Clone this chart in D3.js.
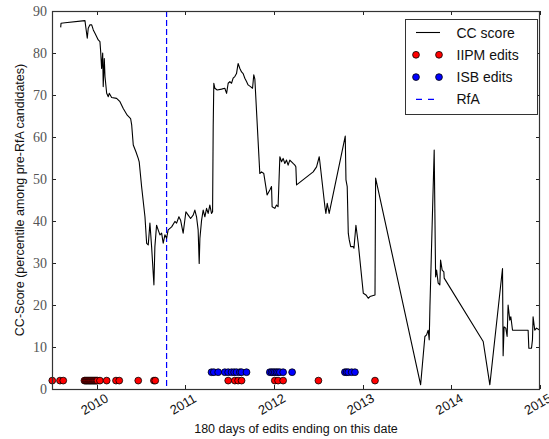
<!DOCTYPE html>
<html>
<head>
<meta charset="utf-8">
<script src="https://cdnjs.cloudflare.com/ajax/libs/d3/7.8.5/d3.min.js"></script>
<style>
  body { margin: 0; background: #fff; }
  .axis-label { font-family: "Liberation Sans", Arial, sans-serif; font-size: 12.5px; fill: #111; }
  .y-tick { font-family: "Liberation Serif", "DejaVu Serif", serif; font-size: 14px; fill: #555; }
  .x-tick { font-family: "Liberation Sans", Arial, sans-serif; font-size: 13px; fill: #111; }
  .legend-text { font-family: "Liberation Sans", Arial, sans-serif; font-size: 14px; fill: #111; }
</style>
</head>
<body>
<svg id="chart" width="549" height="439"></svg>
<script>
// CC score series : decimal year / percentile
var ccYears = [
  2009.594, 2009.598, 2009.643, 2009.868, 2009.879, 2009.894, 2009.905, 2009.924, 2009.944, 2009.962,
  2009.981, 2010.018, 2010.037, 2010.045, 2010.056, 2010.068, 2010.074, 2010.086, 2010.094, 2010.113,
  2010.131, 2010.142, 2010.169, 2010.225, 2010.263, 2010.300, 2010.345, 2010.383, 2010.395, 2010.413,
  2010.443, 2010.469, 2010.480, 2010.507, 2010.545, 2010.564, 2010.582, 2010.601, 2010.620, 2010.646,
  2010.657, 2010.676, 2010.694, 2010.714, 2010.733, 2010.751, 2010.770, 2010.789, 2010.807, 2010.846,
  2010.883, 2010.902, 2010.928, 2010.947, 2010.976, 2011.007, 2011.033, 2011.060, 2011.089, 2011.108,
  2011.127, 2011.145, 2011.157, 2011.165, 2011.184, 2011.202, 2011.221, 2011.240, 2011.258, 2011.277,
  2011.296, 2011.308, 2011.315, 2011.322, 2011.334, 2011.360, 2011.409, 2011.446, 2011.466, 2011.484,
  2011.503, 2011.522, 2011.540, 2011.559, 2011.578, 2011.596, 2011.616, 2011.635, 2011.653, 2011.672,
  2011.691, 2011.709, 2011.736, 2011.759, 2011.773, 2011.785, 2011.841, 2011.860, 2011.886, 2011.909,
  2011.923, 2011.954, 2011.973, 2011.980, 2012.010, 2012.029, 2012.047, 2012.059, 2012.067, 2012.086,
  2012.104, 2012.123, 2012.142, 2012.160, 2012.179, 2012.216, 2012.236, 2012.247, 2012.255, 2012.442,
  2012.480, 2012.510, 2012.517, 2012.574, 2012.585, 2012.600, 2012.622, 2012.803, 2012.811, 2012.825,
  2012.837, 2012.848, 2012.864, 2012.893, 2012.901, 2012.923, 2012.949, 2013.006, 2013.036, 2013.062,
  2013.081, 2013.138, 2013.145, 2013.653, 2013.701, 2013.720, 2013.738, 2013.750, 2013.758, 2013.806,
  2013.822, 2013.833, 2013.851, 2013.870, 2013.878, 2013.896, 2013.915, 2013.919, 2014.359, 2014.434,
  2014.577, 2014.584, 2014.595, 2014.614, 2014.629, 2014.640, 2014.659, 2014.671, 2014.690, 2014.866,
  2014.874, 2014.904, 2014.915, 2014.922, 2014.941, 2014.961, 2014.998
];
var ccScores = [
  86.1, 87.1, 87.2, 87.7, 85.9, 83.5, 85.9, 86.7, 86.7, 85.5,
  84.7, 83.1, 82.7, 80.4, 76.3, 80.0, 72.0, 78.7, 74.4, 70.4,
  69.6, 70.4, 69.4, 69.2, 68.4, 66.8, 65.2, 64.4, 62.9, 58.1,
  56.5, 54.9, 54.1, 48.2, 41.0, 34.7, 34.3, 39.5, 33.9, 24.8,
  33.9, 39.0, 37.9, 36.7, 37.1, 34.7, 36.7, 35.9, 37.9, 38.6,
  39.9, 39.5, 41.0, 40.2, 37.1, 42.2, 41.4, 40.6, 41.4, 42.6,
  41.0, 37.9, 29.9, 35.9, 40.2, 42.6, 41.0, 43.0, 41.8, 43.8,
  41.8, 42.2, 62.5, 72.8, 71.6, 71.2, 71.4, 71.6, 70.4, 72.8,
  73.2, 72.8, 74.0, 74.4, 75.1, 77.5, 76.3, 75.5, 75.1, 74.0,
  73.2, 72.4, 72.0, 71.6, 74.8, 73.8, 51.3, 51.7, 51.3, 48.2,
  46.2, 47.4, 48.2, 43.4, 43.0, 43.8, 43.4, 50.5, 55.3, 54.1,
  54.9, 53.7, 54.5, 53.3, 54.5, 53.7, 53.3, 52.9, 48.6, 51.7,
  52.9, 55.3, 54.1, 43.4, 41.8, 44.2, 41.8, 60.2, 49.8, 48.2,
  37.1, 35.5, 33.9, 33.9, 33.5, 39.0, 34.7, 22.8, 22.4, 21.6,
  22.0, 22.4, 50.2, 1.0, 12.5, 12.9, 14.0, 11.7, 19.6, 56.9,
  26.7, 28.3, 25.2, 24.8, 30.7, 28.3, 27.9, 26.4, 11.3, 1.0,
  28.7, 7.9, 14.8, 14.5, 12.5, 20.0, 16.4, 17.2, 14.0, 14.0,
  9.7, 9.7, 11.7, 17.2, 14.0, 14.5, 14.0
];

// edit dates (decimal year)
var iipmEdits = [
  2009.499, 2009.586, 2009.623, 2009.862, 2009.874, 2009.885, 2009.896, 2009.908, 2009.919, 2009.930,
  2009.941, 2009.953, 2009.964, 2009.975, 2009.986, 2009.998, 2010.009, 2010.037, 2010.113, 2010.218,
  2010.255, 2010.469, 2010.646, 2010.661, 2011.484, 2011.559, 2011.596, 2011.635, 2012.010, 2012.047,
  2012.104, 2012.501, 2013.138
];
var isbEdits = [
  2011.296, 2011.322, 2011.371, 2011.446, 2011.484, 2011.522, 2011.551, 2011.578, 2011.616, 2011.635,
  2011.691, 2011.954, 2011.973, 2011.991, 2012.010, 2012.029, 2012.047, 2012.067, 2012.104, 2012.205,
  2012.799, 2012.818, 2012.837, 2012.875, 2012.912
];
var iipmLevel = 2;
var isbLevel = 4;
var rfaYear = 2010.789;

var xDomainYears = [2009.496, 2015.0];
var yTicks = [0, 10, 20, 30, 40, 50, 60, 70, 80, 90];
var legendLabels = ["CC score", "IIPM edits", "ISB edits", "RfA"];

/*
  NAME: toDate
  DESCRIPTION: turns a decimal year into a Date
*/
function toDate(fy) {
  var y = Math.floor(fy);
  var s = new Date(y, 0, 1);
  var e = new Date(y + 1, 0, 1);
  return new Date(+s + (fy - y) * (e - s));
}

/*
  NAME: drawChart
  DESCRIPTION: draws frame, axes, series, markers and legend
*/
function drawChart() {
  var svg = d3.select("#chart");
  var left = 52, right = 540, top = 11, bottom = 389;

  var x = d3.scaleTime()
    .domain(xDomainYears.map(toDate))
    .range([left, right]);
  var y = d3.scaleLinear().domain([0, 90]).range([bottom, top]);

  var years = x.ticks(d3.timeYear.every(1));

  // tick marks, all pointing inward
  var tickG = svg.append("g").attr("stroke", "#222").attr("stroke-width", 1);
  years.forEach(function (d) {
    var px = Math.round(x(d)) + 0.5;
    tickG.append("line").attr("x1", px).attr("x2", px).attr("y1", bottom).attr("y2", bottom - 4);
    tickG.append("line").attr("x1", px).attr("x2", px).attr("y1", top).attr("y2", top + 4);
  });
  yTicks.forEach(function (d) {
    var py = Math.round(y(d)) + 0.5;
    tickG.append("line").attr("x1", left).attr("x2", left + 4).attr("y1", py).attr("y2", py);
    tickG.append("line").attr("x1", right).attr("x2", right - 4).attr("y1", py).attr("y2", py);
  });

  // y tick labels
  svg.append("g").selectAll("text")
    .data(yTicks)
    .enter()
    .append("text")
    .attr("class", "y-tick")
    .attr("x", left - 5)
    .attr("y", function (d) { return y(d) + 5; })
    .attr("text-anchor", "end")
    .text(function (d) { return d; });

  // x tick labels, rotated
  svg.append("g").selectAll("text")
    .data(years)
    .enter()
    .append("text")
    .attr("class", "x-tick")
    .attr("text-anchor", "middle")
    .attr("transform", function (d) {
      return "translate(" + x(d) + "," + (bottom + 19) + ") rotate(-30)";
    })
    .text(function (d) { return d3.timeFormat("%Y")(d); });

  // RfA dashed line
  svg.append("line")
    .attr("x1", x(toDate(rfaYear)))
    .attr("x2", x(toDate(rfaYear)))
    .attr("y1", top)
    .attr("y2", bottom)
    .attr("stroke", "#0000ff")
    .attr("stroke-width", 1.2)
    .attr("stroke-dasharray", "6,3");

  // CC score line
  var line = d3.line()
    .x(function (d, i) { return x(toDate(ccYears[i])); })
    .y(function (d) { return y(d); });

  svg.append("path")
    .datum(ccScores)
    .attr("d", line)
    .attr("fill", "none")
    .attr("stroke", "#000")
    .attr("stroke-width", 1.1)
    .attr("stroke-linejoin", "round");

  // edit markers
  svg.append("g").selectAll("circle")
    .data(iipmEdits)
    .enter()
    .append("circle")
    .attr("cx", function (d) { return x(toDate(d)); })
    .attr("cy", y(iipmLevel))
    .attr("r", 3.4)
    .attr("fill", "#ff0000")
    .attr("stroke", "#000")
    .attr("stroke-width", 0.8);

  svg.append("g").selectAll("circle")
    .data(isbEdits)
    .enter()
    .append("circle")
    .attr("cx", function (d) { return x(toDate(d)); })
    .attr("cy", y(isbLevel))
    .attr("r", 3.4)
    .attr("fill", "#0000ff")
    .attr("stroke", "#000")
    .attr("stroke-width", 0.8);

  // frame
  svg.append("rect")
    .attr("x", left + 0.5)
    .attr("y", top + 0.5)
    .attr("width", right - left - 1)
    .attr("height", bottom - top)
    .attr("fill", "none")
    .attr("stroke", "#333")
    .attr("stroke-width", 1.2);

  // axis titles
  svg.append("text")
    .attr("class", "axis-label")
    .attr("x", (left + right) / 2)
    .attr("y", 433)
    .attr("text-anchor", "middle")
    .text("180 days of edits ending on this date");

  svg.append("text")
    .attr("class", "axis-label")
    .attr("transform", "translate(24," + (top + bottom) / 2 + ") rotate(-90)")
    .attr("text-anchor", "middle")
    .text("CC-Score (percentile among pre-RfA candidates)");

  drawLegend(svg);
  return;
} // end function drawChart

/*
  NAME: drawLegend
  DESCRIPTION: legend box in the upper right corner
*/
function drawLegend(svg) {
  var lx = 405.5, ly = 19.5, lw = 132, lh = 95;
  var g = svg.append("g");

  g.append("rect")
    .attr("x", lx).attr("y", ly)
    .attr("width", lw).attr("height", lh)
    .attr("fill", "#fff")
    .attr("stroke", "#333")
    .attr("stroke-width", 1);

  legendLabels.forEach(function (d, i) {
    var cy = 32.5 + i * 22.3;
    if (i == 0) {
      g.append("line").attr("x1", 416).attr("x2", 440).attr("y1", cy).attr("y2", cy)
        .attr("stroke", "#000").attr("stroke-width", 1.1);
    } else if (i == 3) {
      g.append("line").attr("x1", 416).attr("x2", 440).attr("y1", cy).attr("y2", cy)
        .attr("stroke", "#0000ff").attr("stroke-width", 1.2).attr("stroke-dasharray", "6,6");
    } else {
      [416, 439].forEach(function (px) {
        g.append("circle").attr("cx", px).attr("cy", cy).attr("r", 3.4)
          .attr("fill", i == 1 ? "#ff0000" : "#0000ff")
          .attr("stroke", "#000").attr("stroke-width", 0.8);
      });
    }
    g.append("text")
      .attr("class", "legend-text")
      .attr("x", 456.5)
      .attr("y", cy + 5)
      .text(d);
  });
  return;
} // end function drawLegend

drawChart();
</script>
</body>
</html>
